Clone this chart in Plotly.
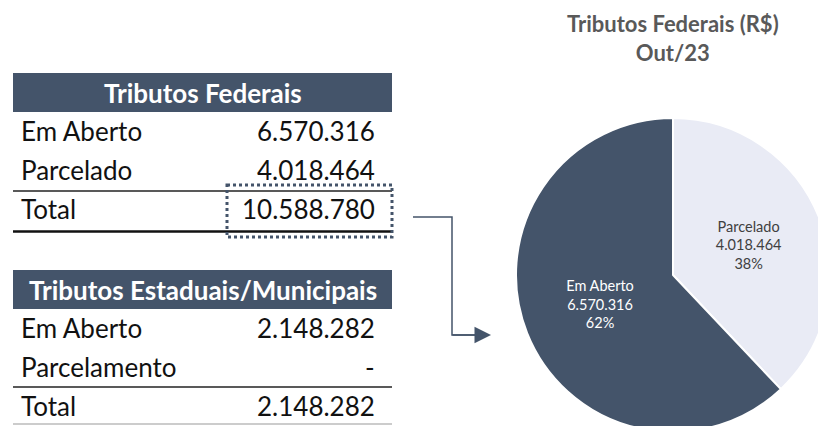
import plotly.graph_objects as go

# ---- data ----
fed_title = "Tributos Federais"
fed_labels = ["Em Aberto", "Parcelado", "Total"]
fed_values = ["6.570.316", "4.018.464", "10.588.780"]

est_title = "Tributos Estaduais/Municipais"
est_labels = ["Em Aberto", "Parcelamento", "Total"]
est_values = ["2.148.282", "-", "2.148.282"]

pie_labels = ["Parcelado", "Em Aberto"]
pie_values = [4018464, 6570316]
pie_text = ["4.018.464", "6.570.316"]
chart_title = "Tributos Federais (R$)<br>Out/23"

# canvas slightly larger than the 818x426 window so the pie is cropped at the edges like the original
W, H = 830, 432
DARK = "#44546A"
LIGHT = "#E9EBF5"
FONT = "Lato"


def px(x):
    return x / W


def py(y):
    return 1 - y / H


shapes = []
annotations = []


def table(title, labels, values, top):
    # header band
    shapes.append(dict(type="rect", xref="paper", yref="paper",
                       x0=px(13), x1=px(392), y0=py(top), y1=py(top + 39),
                       fillcolor=DARK, line=dict(width=0), layer="below"))
    annotations.append(dict(x=px(203), y=py(top + 20), xref="paper", yref="paper",
                            text="<b>" + title + "</b>", showarrow=False,
                            font=dict(family=FONT, size=26, color="white"),
                            xanchor="center", yanchor="middle"))
    for i, (lab, val) in enumerate(zip(labels, values)):
        cy = top + 58 + i * 39
        annotations.append(dict(x=px(19), y=py(cy), xref="paper", yref="paper",
                                text=lab, showarrow=False,
                                font=dict(family=FONT, size=26, color="#111111"),
                                xanchor="left", yanchor="middle"))
        annotations.append(dict(x=px(377), y=py(cy), xref="paper", yref="paper",
                                text=val, showarrow=False,
                                font=dict(family=FONT, size=26, color="#111111"),
                                xanchor="right", yanchor="middle"))


table(fed_title, fed_labels, fed_values, 73)
table(est_title, est_labels, est_values, 270)

# lines in the tables
shapes.append(dict(type="line", xref="paper", yref="paper", x0=px(13), x1=px(392),
                   y0=py(191), y1=py(191), line=dict(color="#222222", width=1.5)))
shapes.append(dict(type="line", xref="paper", yref="paper", x0=px(13), x1=px(392),
                   y0=py(231.5), y1=py(231.5), line=dict(color="#111111", width=2.5)))
shapes.append(dict(type="line", xref="paper", yref="paper", x0=px(13), x1=px(392),
                   y0=py(387), y1=py(387), line=dict(color="#222222", width=1.5)))
shapes.append(dict(type="line", xref="paper", yref="paper", x0=px(13), x1=px(392),
                   y0=py(424), y1=py(424), line=dict(color="#999999", width=1)))

# dotted highlight box around federal total
shapes.append(dict(type="rect", xref="paper", yref="paper",
                   x0=px(227), x1=px(392), y0=py(185), y1=py(237),
                   line=dict(color="#44546A", width=3, dash="dot"),
                   fillcolor="rgba(0,0,0,0)"))

# connector arrow
shapes.append(dict(type="path", xref="paper", yref="paper",
                   path=f"M {px(413)} {py(217)} L {px(452)} {py(217)} L {px(452)} {py(335)} L {px(480)} {py(335)}",
                   line=dict(color=DARK, width=1.5)))
annotations.append(dict(x=px(491), y=py(335), xref="paper", yref="paper",
                        ax=-40, ay=0, axref="pixel", ayref="pixel",
                        text="", showarrow=True, arrowhead=2, arrowsize=2.2,
                        arrowwidth=1.5, arrowcolor=DARK))

# chart title
annotations.append(dict(x=px(673), y=py(38), xref="paper", yref="paper",
                        text="<b>" + chart_title + "</b>", showarrow=False,
                        font=dict(family=FONT, size=22, color="#595959"),
                        xanchor="center", yanchor="middle"))

fig = go.Figure(go.Pie(
    labels=pie_labels,
    values=pie_values,
    text=pie_text,
    sort=False,
    direction="clockwise",
    rotation=0,
    marker=dict(colors=[LIGHT, DARK], line=dict(color="white", width=2)),
    texttemplate="%{label}<br>%{text}<br>%{percent:.0%}",
    textposition="inside",
    insidetextorientation="horizontal",
    textfont=dict(family=FONT, size=14.5),
    insidetextfont=dict(color=["#404040", "white"]),
    domain=dict(x=[px(516), 1.0], y=[0.0, py(118)]),
    showlegend=False,
    hoverinfo="label+value+percent",
))

fig.update_layout(
    width=W, height=H,
    margin=dict(l=0, r=0, t=0, b=0),
    paper_bgcolor="white", plot_bgcolor="white",
    shapes=shapes, annotations=annotations,
    font=dict(family=FONT),
    uniformtext=dict(minsize=14, mode="show"),
)

fig.write_html(
    "out.html",
    config={"displayModeBar": False},
    post_script="document.body.style.margin='0';document.body.style.overflow='hidden';",
)
